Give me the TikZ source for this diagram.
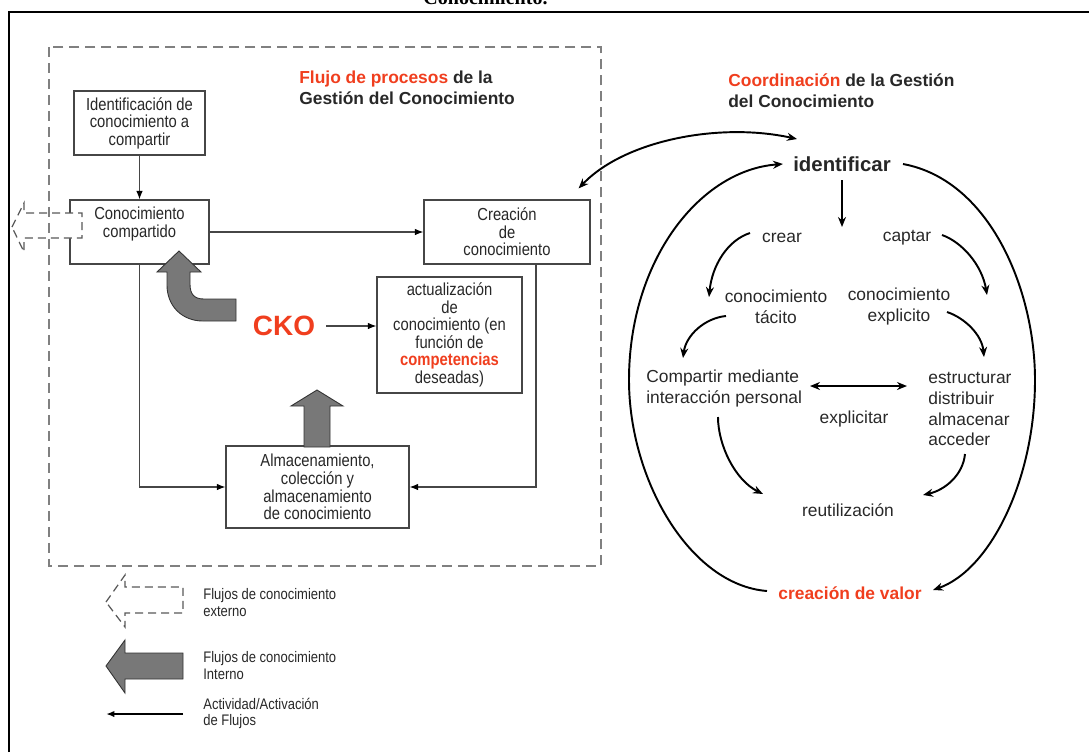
\documentclass[tikz,border=0pt]{standalone}
\usepackage{fontspec}
\setmainfont{Liberation Sans}
\newfontfamily\narrowfont[FakeStretch=0.85]{Liberation Sans}
\newfontfamily\titlefont{Liberation Serif}
\usetikzlibrary{arrows.meta,calc}
\definecolor{hot}{RGB}{240,62,30}
\definecolor{ink}{RGB}{40,40,40}
\definecolor{edge}{RGB}{70,70,70}
\definecolor{flowgray}{RGB}{120,120,120}
\begin{document}
\begin{tikzpicture}[x=0.02cm,y=-0.02cm,
  procbox/.style={draw=edge, line width=0.7pt, fill=white, inner sep=0pt,
    font=\narrowfont\fontsize{9.9}{10}\selectfont, text=ink, align=center},
  boxtext/.style={font=\narrowfont\fontsize{9.9}{10}\selectfont, text=ink, align=center, inner sep=0pt},
  cyctext/.style={font=\fontsize{9.9}{11.9}\selectfont, text=ink, inner sep=0pt},
  headtext/.style={font=\bfseries\fontsize{9.9}{11.9}\selectfont, text=ink, align=left, inner sep=0pt, anchor=west},
  legtext/.style={font=\narrowfont\fontsize{8.7}{9.6}\selectfont, text=ink, align=left, anchor=west, inner sep=0pt},
  link/.style={draw=edge, line width=0.6pt, -{Latex[length=0.17cm,width=0.13cm,color=black]}},
  cycarrow/.style={draw=black, line width=1.1pt, -{Stealth[length=0.2cm,width=0.16cm]}},
  bigflow/.style={fill=flowgray, draw=black!80, line width=0.5pt},
  extflow/.style={fill=white, draw=black!65, line width=0.7pt, dash pattern=on 0.16cm off 0.1cm},
  procframe/.style={draw=black!50, line width=0.8pt, dash pattern=on 0.2cm off 0.12cm}]
\useasboundingbox (0,0) rectangle (1089,752);
\clip (0,0) rectangle (1089,752);

% caption line above the frame
\node[font=\titlefont\bfseries\fontsize{11.4}{12}\selectfont, anchor=base, inner sep=0pt] (title) at (485.5,4) {Conocimiento.};
\draw[line width=1pt] (9,752) -- (9,12) -- (1089,12);

% ---- process flow ----
\node[procbox, minimum width=2.62cm, minimum height=1.28cm] (ident) at (139.5,123)
  {Identificación de\\conocimiento a\\compartir};
\node[procbox, minimum width=2.78cm, minimum height=1.28cm] (conoc) at (139.5,232) {};
\node[boxtext] (conoctxt) at (139.5,224) {Conocimiento\\compartido};
\node[procbox, minimum width=3.32cm, minimum height=1.28cm] (creac) at (507,232)
  {Creación\\de\\conocimiento};
\node[procbox, minimum width=2.9cm, minimum height=2.32cm] (actual) at (449.5,335)
  {actualización\\de\\conocimiento (en\\función de\\{\bfseries\color{hot}competencias}\\deseadas)};
\node[procbox, minimum width=3.66cm, minimum height=1.64cm] (almac) at (317.5,487)
  {Almacenamiento,\\colección y\\almacenamiento\\de conocimiento};

\node[font=\bfseries\fontsize{15.9}{16}\selectfont, text=hot, inner sep=0pt] (cko) at (284,326) {CKO};

\draw[link] (ident) -- (conoc);
\draw[link] (conoc) -- (creac);
\draw[link] (conoc.south) |- (almac.west);
\draw[link] (creac.south) ++(29,0) |- (almac.east);
\draw[link, shorten <=0.22cm] (cko.east) -- (cko.east -| actual.west);

% internal knowledge flows
\filldraw[bigflow] (179,251) -- (201,272) -- (190,272) -- (190,284)
  .. controls (190,294) and (194,299) .. (204,299) -- (236,299) -- (236,321) -- (203,321)
  .. controls (182,321) and (167,306) .. (167,285) -- (167,272) -- (157,272) -- cycle;
\filldraw[bigflow] (317,390) -- (343,406) -- (330,406) -- (330,447) -- (304,447)
  -- (304,406) -- (291,406) -- cycle;

% external knowledge flow
\filldraw[extflow] (12,227) -- (24,203) -- (24,213) -- (82,213) -- (82,238)
  -- (24,238) -- (24,252) -- cycle;

\draw[procframe] (49,47) rectangle (601,566);

\node[headtext] (hproc) at (299,88) {\textcolor{hot}{Flujo de procesos} de la\\Gestión del Conocimiento};

% ---- coordination cycle ----
\node[headtext] (hcoord) at (728,91) {\textcolor{hot}{Coordinación} de la Gestión\\del Conocimiento};
\node[cyctext, font=\bfseries\fontsize{11.6}{13}\selectfont, text=black!85] (idf) at (842,164) {identificar};
\node[cyctext] (crear) at (782,238) {crear};
\node[cyctext] (captar) at (907,238) {captar};
\node[cyctext, align=center] (tacito) at (776,306.5) {conocimiento\\tácito};
\node[cyctext, align=center] (explic) at (899,306.5) {conocimiento\\explicito};
\node[cyctext, align=left, anchor=west] (comp) at (646,388.5) {Compartir mediante\\interacción personal};
\node[cyctext, align=left, anchor=west] (estr) at (928,409) {estructurar\\distribuir\\almacenar\\acceder};
\node[cyctext] (explt) at (854,419) {explicitar};
\node[cyctext] (reut) at (848,510) {reutilización};
\node[cyctext, font=\bfseries\fontsize{9.9}{11}\selectfont, text=hot] (valor) at (850,593) {creación de valor};

\draw[cycarrow] ([shift={(0,16)}]idf.center) -- ([shift={(0,63)}]idf.center);
\draw[cycarrow] ([shift={(-32,-5)}]crear.center) .. controls (728,240) and (712,265) .. ([shift={(-67,-9.5)}]tacito.center);
\draw[cycarrow] ([shift={(35,-3)}]captar.center) .. controls (962,242) and (982,265) .. ([shift={(88,-11.5)}]explic.center);
\draw[cycarrow] ([shift={(-50,9.5)}]tacito.center) .. controls (705,318) and (686,335) .. ([shift={(37,-30.5)}]comp.west);
\draw[cycarrow] ([shift={(48,5.5)}]explic.center) .. controls (965,318) and (982,335) .. ([shift={(56,-52)}]estr.west);
\draw[cycarrow] ([shift={(72,28.5)}]comp.west) .. controls (718,445) and (735,480) .. ([shift={(-85,-16)}]reut.center);
\draw[cycarrow] ([shift={(37,45)}]estr.west) .. controls (963,475) and (945,490) .. ([shift={(75,-15)}]reut.center);
\draw[cycarrow, {Stealth[length=0.2cm,width=0.16cm]}-{Stealth[length=0.2cm,width=0.16cm]}]
  ([shift={(164,-2.5)}]comp.west) -- ([shift={(-21,-23)}]estr.west);
\draw[cycarrow] ([shift={(-83,-2)}]valor.center) .. controls (690,585) and (629,480) .. (629,380)
  .. controls (629,260) and (700,170) .. ([shift={(-59,0)}]idf.center);
\draw[cycarrow] ([shift={(61,0)}]idf.center) .. controls (990,180) and (1035,290) .. (1035,380)
  .. controls (1035,480) and (990,570) .. ([shift={(83,-3)}]valor.center);
\draw[cycarrow, {Stealth[length=0.2cm,width=0.16cm]}-{Stealth[length=0.2cm,width=0.16cm]}]
  ([shift={(-12,-11)}]creac.north east) .. controls (625,140) and (720,122) .. ([shift={(-45,-25)}]idf.center);

% ---- legend ----
\filldraw[extflow] (106,602) -- (125,575) -- (125,587) -- (183,587) -- (183,613)
  -- (125,613) -- (125,627) -- cycle;
\node[legtext] (lg1) at (203,602.5) {Flujos de conocimiento\\externo};
\filldraw[bigflow] (106,666) -- (125,640) -- (125,653) -- (183,653) -- (183,679)
  -- (125,679) -- (125,693) -- cycle;
\node[legtext] (lg2) at (203,665.5) {Flujos de conocimiento\\Interno};
\coordinate (lgs) at (183,714);
\coordinate (lge) at (106,714);
\draw[line width=1.1pt, -{Latex[length=0.17cm,width=0.13cm]}] (lgs) -- (lge);
\node[legtext] (lg3) at (203,713.5) {Actividad/Activación\\de Flujos};
\end{tikzpicture}
\end{document}
